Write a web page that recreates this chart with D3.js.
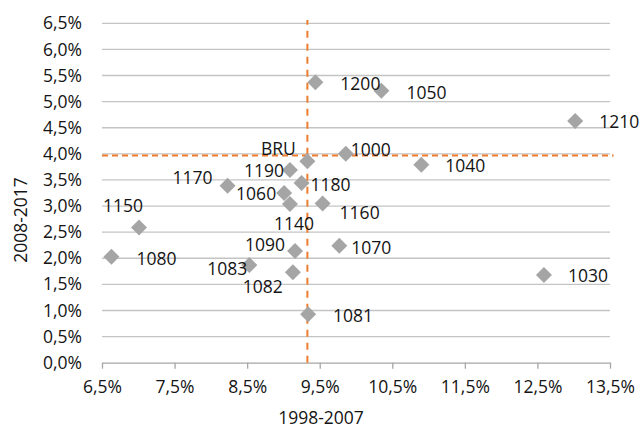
<!DOCTYPE html>
<html>
<head>
<meta charset="utf-8">
<script src="https://cdn.jsdelivr.net/npm/d3@7/dist/d3.min.js"></script>
<style>
  html, body { margin: 0; padding: 0; background: #fff; }
  svg { display: block; }
  text { font-family: "Open Sans", "Noto Sans", sans-serif; fill: #141414; }
</style>
</head>
<body>
<svg id="chart" width="643" height="428"></svg>
<script>
// Average annual growth per postcode: 1998-2007 (x) vs 2008-2017 (y), in %
const codes   = ["BRU", "1000", "1030", "1040", "1050", "1060", "1070", "1080", "1081", "1082",
                 "1083", "1090", "1140", "1150", "1160", "1170", "1180", "1190", "1200", "1210"];
const growth1998 = [9.33, 9.86, 12.59, 10.90, 10.35, 9.01, 9.77, 6.63, 9.34, 9.13,
                    8.53, 9.16, 9.09, 7.01, 9.54, 8.23, 9.25, 9.09, 9.44, 13.02];
const growth2008 = [3.86, 4.00, 1.68, 3.79, 5.21, 3.25, 2.24, 2.03, 0.93, 1.73,
                    1.87, 2.14, 3.04, 2.59, 3.05, 3.39, 3.44, 3.69, 5.37, 4.63];

// Reference lines through the Brussels level
const refX = 9.33;
const refY = 3.97;

const xTicks = [6.5, 7.5, 8.5, 9.5, 10.5, 11.5, 12.5, 13.5];
const yTicks = [0, 0.5, 1, 1.5, 2, 2.5, 3, 3.5, 4, 4.5, 5, 5.5, 6, 6.5];
const xTitle = "1998-2007";
const yTitle = "2008-2017";

// ---- drawing ----
const svg = d3.select("#chart");
const plotLeft = 102, plotRight = 610, plotTop = 23.3, plotBottom = 362.7;

const x = d3.scaleLinear().domain([6.5, 13.5]).range([plotLeft, plotRight]);
const y = d3.scaleLinear().domain([0, 6.5]).range([plotBottom, plotTop]);

const locale = d3.formatLocale({ decimal: ",", thousands: ".", grouping: [3], currency: ["", "€"] });
const pct = v => locale.format(".1f")(v) + "%";
const FS = 17.5;
const ink = "#141414";

// horizontal gridlines
svg.append("g")
  .selectAll("line")
  .data(yTicks.filter(v => v > 0))
  .join("line")
  .attr("x1", plotLeft).attr("x2", plotRight)
  .attr("y1", d => y(d)).attr("y2", d => y(d))
  .attr("stroke", "#c4c4c4").attr("stroke-width", 1.3);

// y axis labels (no axis line)
const yAxis = svg.append("g")
  .attr("transform", `translate(${plotLeft},0)`)
  .call(d3.axisLeft(y).tickValues(yTicks).tickFormat(pct).tickSize(0).tickPadding(20));
yAxis.select(".domain").remove();
yAxis.selectAll("text").attr("font-size", FS).attr("font-family", null).attr("fill", ink);

// x axis with downward ticks
const xAxis = svg.append("g")
  .attr("transform", `translate(0,${plotBottom})`)
  .call(d3.axisBottom(x).tickValues(xTicks).tickFormat(pct).tickSize(6).tickSizeOuter(0).tickPadding(12));
xAxis.select(".domain").attr("stroke", "#a6a6a6").attr("stroke-width", 1.3);
xAxis.selectAll(".tick line").attr("stroke", "#a6a6a6").attr("stroke-width", 1.3);
xAxis.selectAll("text").attr("font-size", FS).attr("font-family", null).attr("fill", ink);

// axis titles
svg.append("text")
  .attr("x", 321).attr("y", 417)
  .attr("text-anchor", "middle").attr("dominant-baseline", "central")
  .attr("font-size", FS).text(xTitle);
svg.append("text")
  .attr("transform", "translate(20,220) rotate(-90)")
  .attr("text-anchor", "middle").attr("dominant-baseline", "central")
  .attr("font-size", FS).text(yTitle);

// dashed reference lines
const orange = "#ed7d31";
svg.append("line")
  .attr("x1", x(6.5)).attr("x2", x(13.55))
  .attr("y1", y(refY)).attr("y2", y(refY))
  .attr("stroke", orange).attr("stroke-width", 2).attr("stroke-dasharray", "6,4");
svg.append("line")
  .attr("x1", x(refX)).attr("x2", x(refX))
  .attr("y1", y(0)).attr("y2", y(6.565))
  .attr("stroke", orange).attr("stroke-width", 2).attr("stroke-dasharray", "7,6");

// points
const points = codes.map((c, i) => ({ code: c, a: growth1998[i], b: growth2008[i] }));
const diamond = "M0,-8L8,0L0,8L-8,0Z";

svg.append("g")
  .selectAll("path")
  .data(points)
  .join("path")
  .attr("d", diamond)
  .attr("transform", d => `translate(${x(d.a)},${y(d.b)})`)
  .attr("fill", "#a5a5a5");

// label placement around each marker: [anchor, dx, dy]
const labelLayout = {
  "BRU":  ["middle", -29, -13],
  "1000": ["start", 5, -5],
  "1030": ["start", 24, 0],
  "1040": ["start", 24, 0],
  "1050": ["start", 25, 1],
  "1060": ["end", -8, 0],
  "1070": ["start", 12, 1],
  "1080": ["start", 25, 1],
  "1081": ["start", 25, 1],
  "1082": ["middle", -30, 14],
  "1083": ["end", -2, 3],
  "1090": ["end", -10, -7],
  "1140": ["middle", 4, 19],
  "1150": ["middle", -16, -22],
  "1160": ["start", 17, 9],
  "1170": ["end", -15, -9],
  "1180": ["start", 9, 1],
  "1190": ["end", -6, 0],
  "1200": ["start", 25, 1],
  "1210": ["start", 24, 0]
};

svg.append("g")
  .selectAll("text")
  .data(points)
  .join("text")
  .attr("x", d => x(d.a) + labelLayout[d.code][1])
  .attr("y", d => y(d.b) + labelLayout[d.code][2])
  .attr("text-anchor", d => labelLayout[d.code][0])
  .attr("dominant-baseline", "central")
  .attr("font-size", FS)
  .text(d => d.code);
</script>
</body>
</html>
